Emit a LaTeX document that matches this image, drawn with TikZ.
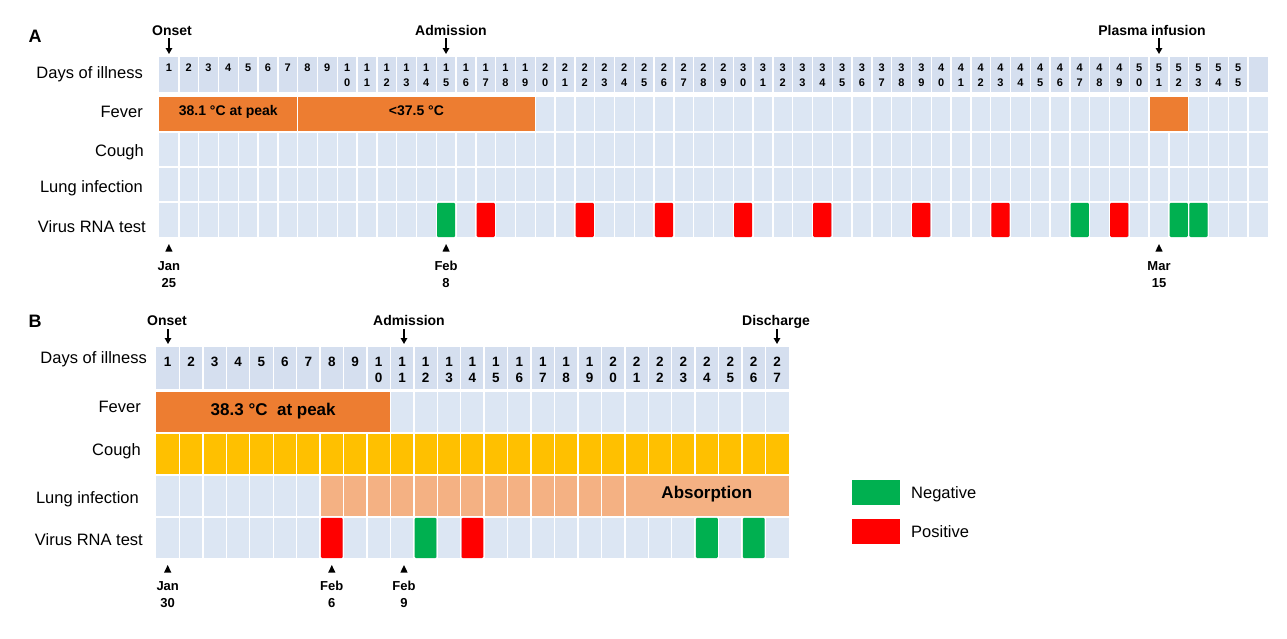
\documentclass[tikz,border=0pt]{standalone}
\usepackage{fontspec}
\setmainfont{Liberation Sans}
\usetikzlibrary{arrows.meta}
\definecolor{hdrblue}{RGB}{213,223,239}
\definecolor{cellblue}{RGB}{220,230,243}
\definecolor{fevorange}{RGB}{237,125,49}
\definecolor{coughyel}{RGB}{255,192,0}
\definecolor{lungor}{RGB}{244,177,131}
\definecolor{neggreen}{RGB}{0,176,80}
\definecolor{posred}{RGB}{255,0,0}
\tikzset{
  panellabel/.style={anchor=base, inner sep=0pt, font=\bfseries\fontsize{18}{20}\selectfont},
  rowlabel/.style={anchor=base east, inner sep=0pt, font=\fontsize{16.5}{19}\selectfont},
  marklabel/.style={anchor=base, inner sep=0pt, font=\bfseries\fontsize{14}{16}\selectfont},
  datelabel/.style={anchor=base, inner sep=0pt, font=\bfseries\fontsize{13}{15}\selectfont},
  digitA/.style={inner sep=0pt, font=\bfseries\fontsize{11}{12}\selectfont},
  digitB/.style={inner sep=0pt, font=\bfseries\fontsize{13.5}{15}\selectfont},
  bartext/.style={anchor=base, inner sep=0pt, font=\bfseries\fontsize{14}{16}\selectfont},
  bartextB/.style={anchor=base, inner sep=0pt, font=\bfseries\fontsize{17}{19}\selectfont},
  legtext/.style={anchor=base west, inner sep=0pt, font=\fontsize{16.5}{19}\selectfont},
  downarrow/.style={-{Triangle[width=6.5pt,length=6pt]}, line width=1.3pt},
  sep/.style={draw=white, line width=1.4pt},
  testbar/.style={rounded corners=1.2pt},
}
\begin{document}
\begin{tikzpicture}[x=1pt,y=-1pt]
\useasboundingbox (0,0) rectangle (1287,638);

%% ================= Panel A =================
\node[panellabel] (labA) at (35,42) {A};
\fill[hdrblue] (159,57) rectangle (1267.8,92);
\fill[cellblue] (159,97) rectangle (1267.8,237);
\fill[fevorange] (159,97) rectangle (297.6,132);
\fill[fevorange] (297.6,97) rectangle (535.2,132);
\fill[fevorange] (1149,97) rectangle (1188.6,132);
\foreach \k in {1,...,55}{
  \draw[sep] ({159+\k*19.8},57) -- ({159+\k*19.8},92);
  \draw[sep] ({159+\k*19.8},132) -- ({159+\k*19.8},237);
}
\foreach \k in {19,...,50}{\draw[sep] ({159+\k*19.8},97) -- ({159+\k*19.8},132);}
\foreach \k in {7,52,53,54,55}{\draw[sep] ({159+\k*19.8},97) -- ({159+\k*19.8},132);}
\foreach \y in {132,167,202}{\draw[sep] (159,\y) -- (1267.8,\y);}

\node[bartext] (fevA1) at (228.3,115) {38.1 °C at peak};
\node[bartext] (fevA2) at (416.4,115) {<37.5 °C};

\foreach \d in {15,47,52,53}{
  \fill[neggreen,testbar] ({159+(\d-1)*19.8+0.8},202.8) rectangle ({159+\d*19.8-0.8},237);}
\foreach \d in {17,22,26,30,34,39,43,49}{
  \fill[posred,testbar] ({159+(\d-1)*19.8+0.8},202.8) rectangle ({159+\d*19.8-0.8},237);}

\foreach \d in {1,...,55}{
  \pgfmathsetmacro\cx{159+(\d-0.5)*19.8}
  \ifnum\d<10
    \node[digitA] (hA\d) at (\cx,68) {\d};
  \else
    \pgfmathtruncatemacro\tens{\d/10}
    \pgfmathtruncatemacro\ones{\d-10*\tens}
    \node[digitA] (hA\d) at (\cx,68) {\tens};
    \node[digitA] (hA\d b) at (\cx,83) {\ones};
  \fi
}

\node[rowlabel] (rA1) at (143,78) {Days of illness};
\node[rowlabel] (rA2) at (143,117) {Fever};
\node[rowlabel] (rA3) at (144,156) {Cough};
\node[rowlabel] (rA4) at (143,192) {Lung infection};
\node[rowlabel] (rA5) at (146,232) {Virus RNA test};

\node[marklabel] (onsetA) at (172,35) {Onset};
\coordinate (onsetAtip) at (169,54);
\draw[downarrow] ([yshift=-3pt]onsetA.base -| onsetAtip) -- (onsetAtip);
\node[marklabel] (admA) at (451,35) {Admission};
\coordinate (admAtip) at (446,54);
\draw[downarrow] ([yshift=-3pt]admA.base -| admAtip) -- (admAtip);
\node[marklabel] (plasA) at (1152,35) {Plasma infusion};
\coordinate (plasAtip) at (1159,54);
\draw[downarrow] ([yshift=-3pt]plasA.base -| plasAtip) -- (plasAtip);

\foreach \x/\m/\n/\id in {168.9/Jan/25/a, 446.1/Feb/8/b, 1159/Mar/15/c}{
  \fill (\x-3.6,251.5) -- (\x+3.6,251.5) -- (\x,244) -- cycle;
  \node[datelabel] (dmA\id) at (\x,270) {\m};
  \node[datelabel] (ddA\id) at (\x,287) {\n};
}

%% ================= Panel B =================
\node[panellabel] (labB) at (35,327) {B};
\fill[hdrblue] (156,347) rectangle (788.9,389);
\fill[cellblue] (156,392) rectangle (788.9,558);
\fill[fevorange] (156,392) rectangle (390.4,433);
\fill[coughyel] (156,433) rectangle (788.9,475);
\fill[lungor] (320.1,475) rectangle (788.9,517);
\foreach \k in {1,...,26}{
  \draw[sep] ({156+\k*23.44},347) -- ({156+\k*23.44},389);
  \draw[sep] ({156+\k*23.44},433) -- ({156+\k*23.44},475);
  \draw[sep] ({156+\k*23.44},517) -- ({156+\k*23.44},558);
}
\foreach \k in {10,...,26}{\draw[sep] ({156+\k*23.44},392) -- ({156+\k*23.44},433);}
\foreach \k in {1,...,20}{\draw[sep] ({156+\k*23.44},475) -- ({156+\k*23.44},517);}
\foreach \y in {433,475,517}{\draw[sep] (156,\y) -- (788.9,\y);}

\node[bartextB] (fevB) at (273.2,415) {38.3 °C\ \ at peak};
\node[bartextB] (absB) at (706.8,498) {Absorption};

\foreach \d in {12,24,26}{
  \fill[neggreen,testbar] ({156+(\d-1)*23.44+0.8},517.8) rectangle ({156+\d*23.44-0.8},558);}
\foreach \d in {8,14}{
  \fill[posred,testbar] ({156+(\d-1)*23.44+0.8},517.8) rectangle ({156+\d*23.44-0.8},558);}

\foreach \d in {1,...,27}{
  \pgfmathsetmacro\cx{156+(\d-0.5)*23.44}
  \ifnum\d<10
    \node[digitB] (hB\d) at (\cx,362) {\d};
  \else
    \pgfmathtruncatemacro\tens{\d/10}
    \pgfmathtruncatemacro\ones{\d-10*\tens}
    \node[digitB] (hB\d) at (\cx,362) {\tens};
    \node[digitB] (hB\d b) at (\cx,378) {\ones};
  \fi
}

\node[rowlabel] (rB1) at (147,363) {Days of illness};
\node[rowlabel] (rB2) at (141,412) {Fever};
\node[rowlabel] (rB3) at (141,455) {Cough};
\node[rowlabel] (rB4) at (139,503) {Lung infection};
\node[rowlabel] (rB5) at (143,545) {Virus RNA test};

\node[marklabel] (onsetB) at (167,325) {Onset};
\coordinate (onsetBtip) at (168,344);
\draw[downarrow] ([yshift=-4pt]onsetB.base -| onsetBtip) -- (onsetBtip);
\node[marklabel] (admB) at (409,325) {Admission};
\coordinate (admBtip) at (404,344);
\draw[downarrow] ([yshift=-4pt]admB.base -| admBtip) -- (admBtip);
\node[marklabel] (disB) at (776,325) {Discharge};
\coordinate (disBtip) at (777,344);
\draw[downarrow] ([yshift=-4pt]disB.base -| disBtip) -- (disBtip);

\foreach \x/\m/\n/\id in {167.7/Jan/30/a, 331.8/Feb/6/b, 404/Feb/9/c}{
  \fill (\x-3.6,572.5) -- (\x+3.6,572.5) -- (\x,565) -- cycle;
  \node[datelabel] (dmB\id) at (\x,590) {\m};
  \node[datelabel] (ddB\id) at (\x,607) {\n};
}

%% ================= Legend =================
\fill[neggreen] (852,480) rectangle (900,505);
\node[legtext] (legN) at (911,498) {Negative};
\fill[posred] (852,519) rectangle (900,544);
\node[legtext] (legP) at (911,537) {Positive};
\end{tikzpicture}
\end{document}
